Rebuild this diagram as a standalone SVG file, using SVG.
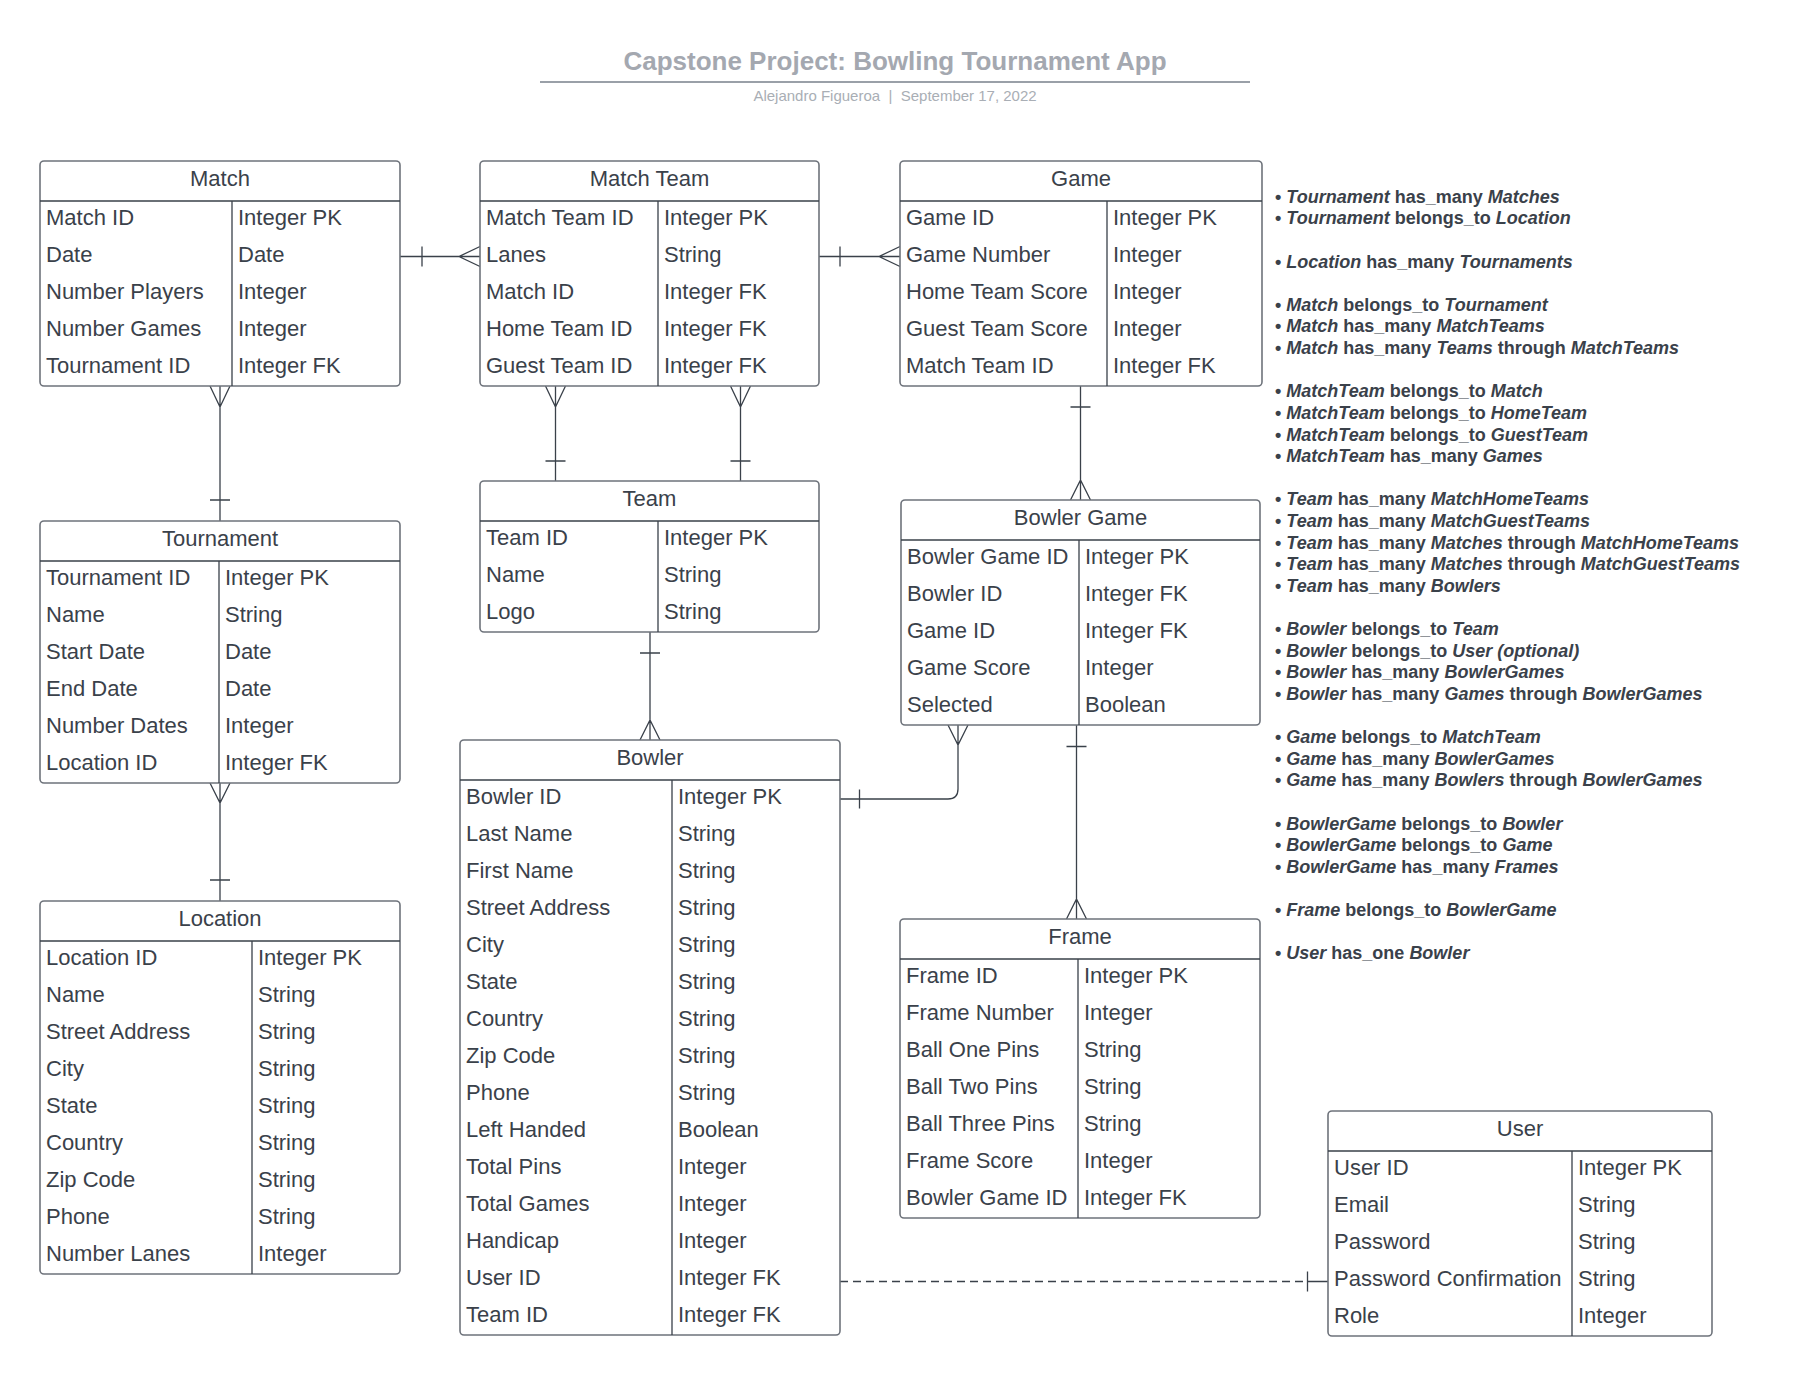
<svg xmlns="http://www.w3.org/2000/svg" width="1800" height="1384" viewBox="0 0 1800 1384">
<style>
.bg{fill:#ffffff}
.box{fill:#ffffff;stroke:#6e737b;stroke-width:1.6}
.ln{stroke:#3a414a;stroke-width:1.3;fill:none}
.t{font-family:"Liberation Sans",Arial,sans-serif;font-size:22px;fill:#3a414a}
.h{font-family:"Liberation Sans",Arial,sans-serif;font-size:22px;fill:#3a414a;text-anchor:middle}
.cn{stroke:#3a414a;stroke-width:1.3;fill:none}
.dash{stroke:#3a414a;stroke-width:1.3;fill:none;stroke-dasharray:8 5}
.title{font-family:"Liberation Sans",Arial,sans-serif;font-size:26px;font-weight:bold;fill:#a4a8b0;text-anchor:middle}
.sub{font-family:"Liberation Sans",Arial,sans-serif;font-size:15px;fill:#a9aeb5;text-anchor:middle;white-space:pre}
.n{font-family:"Liberation Sans",Arial,sans-serif;font-size:18px;font-weight:bold;fill:#3a414a}
.i{font-style:italic}
</style>
<rect class="bg" x="0" y="0" width="1800" height="1384"/>

<g id="header">
<text class="title" x="895" y="70">Capstone Project: Bowling Tournament App</text>
<line x1="540" y1="82" x2="1250" y2="82" stroke="#9aa0a8" stroke-width="2"/>
<text class="sub" x="895" y="101" xml:space="preserve">Alejandro Figueroa  |  September 17, 2022</text>
</g>

<g id="connectors">
<!-- Match - Match Team -->
<path class="cn" d="M400 256.5 H480 M422 246.5 V266.5 M480 246.5 L459 256.5 L480 266.5"/>
<!-- Match Team - Game -->
<path class="cn" d="M819 256.5 H900 M840 246.5 V266.5 M900 246.5 L879 256.5 L900 266.5"/>
<!-- Match - Tournament -->
<path class="cn" d="M220 386 V521 M210 500 H230 M210 386 L220 407 L230 386"/>
<!-- Tournament - Location -->
<path class="cn" d="M220 783 V901 M210 880 H230 M210 783 L220 803 L230 783"/>
<!-- Match Team - Team (home) -->
<path class="cn" d="M555.5 386 V481 M545.5 461 H565.5 M545.5 386 L555.5 407 L565.5 386"/>
<!-- Match Team - Team (guest) -->
<path class="cn" d="M740.5 386 V481 M730.5 461 H750.5 M730.5 386 L740.5 407 L750.5 386"/>
<!-- Team - Bowler -->
<path class="cn" d="M650 632 V740 M640 653 H660 M640 740 L650 720 L660 740"/>
<!-- Game - Bowler Game -->
<path class="cn" d="M1080.5 386 V500 M1070.5 407 H1090.5 M1070.5 500 L1080.5 480 L1090.5 500"/>
<!-- Bowler Game - Bowler -->
<path class="cn" d="M958 725 V789 Q958 799 948 799 H840 M859.5 789.5 V808.5 M948 725 L958 745 L968 725"/>
<!-- Bowler Game - Frame -->
<path class="cn" d="M1076.5 725 V919 M1066.5 746.5 H1086.5 M1066.5 919 L1076.5 899 L1086.5 919"/>
<!-- Bowler - User -->
<path class="dash" d="M840 1281.5 H1307.5"/>
<path class="cn" d="M1307.5 1281.5 H1328 M1307.5 1271.5 V1291.5"/>
</g>

<g id="match">
<rect class="box" x="40" y="161" width="360" height="225" rx="4"/>
<path class="ln" d="M40 201 H400 M232 201 V386"/>
<text class="h" x="220" y="185.5">Match</text>
<g transform="translate(0,1.5)">
<text class="t" x="46" y="223">Match ID</text><text class="t" x="238" y="223">Integer PK</text>
<text class="t" x="46" y="260">Date</text><text class="t" x="238" y="260">Date</text>
<text class="t" x="46" y="297">Number Players</text><text class="t" x="238" y="297">Integer</text>
<text class="t" x="46" y="334">Number Games</text><text class="t" x="238" y="334">Integer</text>
<text class="t" x="46" y="371">Tournament ID</text><text class="t" x="238" y="371">Integer FK</text>
</g>
</g>

<g id="match-team">
<rect class="box" x="480" y="161" width="339" height="225" rx="4"/>
<path class="ln" d="M480 201 H819 M658 201 V386"/>
<text class="h" x="649.5" y="185.5">Match Team</text>
<g transform="translate(0,1.5)">
<text class="t" x="486" y="223">Match Team ID</text><text class="t" x="664" y="223">Integer PK</text>
<text class="t" x="486" y="260">Lanes</text><text class="t" x="664" y="260">String</text>
<text class="t" x="486" y="297">Match ID</text><text class="t" x="664" y="297">Integer FK</text>
<text class="t" x="486" y="334">Home Team ID</text><text class="t" x="664" y="334">Integer FK</text>
<text class="t" x="486" y="371">Guest Team ID</text><text class="t" x="664" y="371">Integer FK</text>
</g>
</g>

<g id="game">
<rect class="box" x="900" y="161" width="362" height="225" rx="4"/>
<path class="ln" d="M900 201 H1262 M1107 201 V386"/>
<text class="h" x="1081" y="185.5">Game</text>
<g transform="translate(0,1.5)">
<text class="t" x="906" y="223">Game ID</text><text class="t" x="1113" y="223">Integer PK</text>
<text class="t" x="906" y="260">Game Number</text><text class="t" x="1113" y="260">Integer</text>
<text class="t" x="906" y="297">Home Team Score</text><text class="t" x="1113" y="297">Integer</text>
<text class="t" x="906" y="334">Guest Team Score</text><text class="t" x="1113" y="334">Integer</text>
<text class="t" x="906" y="371">Match Team ID</text><text class="t" x="1113" y="371">Integer FK</text>
</g>
</g>

<g id="team">
<rect class="box" x="480" y="481" width="339" height="151" rx="4"/>
<path class="ln" d="M480 521 H819 M658 521 V632"/>
<text class="h" x="649.5" y="505.5">Team</text>
<g transform="translate(0,1.5)">
<text class="t" x="486" y="543">Team ID</text><text class="t" x="664" y="543">Integer PK</text>
<text class="t" x="486" y="580">Name</text><text class="t" x="664" y="580">String</text>
<text class="t" x="486" y="617">Logo</text><text class="t" x="664" y="617">String</text>
</g>
</g>

<g id="tournament">
<rect class="box" x="40" y="521" width="360" height="262" rx="4"/>
<path class="ln" d="M40 561 H400 M219 561 V783"/>
<text class="h" x="220" y="545.5">Tournament</text>
<g transform="translate(0,1.5)">
<text class="t" x="46" y="583">Tournament ID</text><text class="t" x="225" y="583">Integer PK</text>
<text class="t" x="46" y="620">Name</text><text class="t" x="225" y="620">String</text>
<text class="t" x="46" y="657">Start Date</text><text class="t" x="225" y="657">Date</text>
<text class="t" x="46" y="694">End Date</text><text class="t" x="225" y="694">Date</text>
<text class="t" x="46" y="731">Number Dates</text><text class="t" x="225" y="731">Integer</text>
<text class="t" x="46" y="768">Location ID</text><text class="t" x="225" y="768">Integer FK</text>
</g>
</g>

<g id="location">
<rect class="box" x="40" y="901" width="360" height="373" rx="4"/>
<path class="ln" d="M40 941 H400 M252 941 V1274"/>
<text class="h" x="220" y="925.5">Location</text>
<g transform="translate(0,1.5)">
<text class="t" x="46" y="963">Location ID</text><text class="t" x="258" y="963">Integer PK</text>
<text class="t" x="46" y="1000">Name</text><text class="t" x="258" y="1000">String</text>
<text class="t" x="46" y="1037">Street Address</text><text class="t" x="258" y="1037">String</text>
<text class="t" x="46" y="1074">City</text><text class="t" x="258" y="1074">String</text>
<text class="t" x="46" y="1111">State</text><text class="t" x="258" y="1111">String</text>
<text class="t" x="46" y="1148">Country</text><text class="t" x="258" y="1148">String</text>
<text class="t" x="46" y="1185">Zip Code</text><text class="t" x="258" y="1185">String</text>
<text class="t" x="46" y="1222">Phone</text><text class="t" x="258" y="1222">String</text>
<text class="t" x="46" y="1259">Number Lanes</text><text class="t" x="258" y="1259">Integer</text>
</g>
</g>

<g id="bowler">
<rect class="box" x="460" y="740" width="380" height="595" rx="4"/>
<path class="ln" d="M460 780 H840 M672 780 V1335"/>
<text class="h" x="650" y="764.5">Bowler</text>
<g transform="translate(0,1.5)">
<text class="t" x="466" y="802">Bowler ID</text><text class="t" x="678" y="802">Integer PK</text>
<text class="t" x="466" y="839">Last Name</text><text class="t" x="678" y="839">String</text>
<text class="t" x="466" y="876">First Name</text><text class="t" x="678" y="876">String</text>
<text class="t" x="466" y="913">Street Address</text><text class="t" x="678" y="913">String</text>
<text class="t" x="466" y="950">City</text><text class="t" x="678" y="950">String</text>
<text class="t" x="466" y="987">State</text><text class="t" x="678" y="987">String</text>
<text class="t" x="466" y="1024">Country</text><text class="t" x="678" y="1024">String</text>
<text class="t" x="466" y="1061">Zip Code</text><text class="t" x="678" y="1061">String</text>
<text class="t" x="466" y="1098">Phone</text><text class="t" x="678" y="1098">String</text>
<text class="t" x="466" y="1135">Left Handed</text><text class="t" x="678" y="1135">Boolean</text>
<text class="t" x="466" y="1172">Total Pins</text><text class="t" x="678" y="1172">Integer</text>
<text class="t" x="466" y="1209">Total Games</text><text class="t" x="678" y="1209">Integer</text>
<text class="t" x="466" y="1246">Handicap</text><text class="t" x="678" y="1246">Integer</text>
<text class="t" x="466" y="1283">User ID</text><text class="t" x="678" y="1283">Integer FK</text>
<text class="t" x="466" y="1320">Team ID</text><text class="t" x="678" y="1320">Integer FK</text>
</g>
</g>

<g id="bowler-game">
<rect class="box" x="901" y="500" width="359" height="225" rx="4"/>
<path class="ln" d="M901 540 H1260 M1079 540 V725"/>
<text class="h" x="1080.5" y="524.5">Bowler Game</text>
<g transform="translate(0,1.5)">
<text class="t" x="907" y="562">Bowler Game ID</text><text class="t" x="1085" y="562">Integer PK</text>
<text class="t" x="907" y="599">Bowler ID</text><text class="t" x="1085" y="599">Integer FK</text>
<text class="t" x="907" y="636">Game ID</text><text class="t" x="1085" y="636">Integer FK</text>
<text class="t" x="907" y="673">Game Score</text><text class="t" x="1085" y="673">Integer</text>
<text class="t" x="907" y="710">Selected</text><text class="t" x="1085" y="710">Boolean</text>
</g>
</g>

<g id="frame">
<rect class="box" x="900" y="919" width="360" height="299" rx="4"/>
<path class="ln" d="M900 959 H1260 M1078 959 V1218"/>
<text class="h" x="1080" y="943.5">Frame</text>
<g transform="translate(0,1.5)">
<text class="t" x="906" y="981">Frame ID</text><text class="t" x="1084" y="981">Integer PK</text>
<text class="t" x="906" y="1018">Frame Number</text><text class="t" x="1084" y="1018">Integer</text>
<text class="t" x="906" y="1055">Ball One Pins</text><text class="t" x="1084" y="1055">String</text>
<text class="t" x="906" y="1092">Ball Two Pins</text><text class="t" x="1084" y="1092">String</text>
<text class="t" x="906" y="1129">Ball Three Pins</text><text class="t" x="1084" y="1129">String</text>
<text class="t" x="906" y="1166">Frame Score</text><text class="t" x="1084" y="1166">Integer</text>
<text class="t" x="906" y="1203">Bowler Game ID</text><text class="t" x="1084" y="1203">Integer FK</text>
</g>
</g>

<g id="user">
<rect class="box" x="1328" y="1111" width="384" height="225" rx="4"/>
<path class="ln" d="M1328 1151 H1712 M1572 1151 V1336"/>
<text class="h" x="1520" y="1135.5">User</text>
<g transform="translate(0,1.5)">
<text class="t" x="1334" y="1173">User ID</text><text class="t" x="1578" y="1173">Integer PK</text>
<text class="t" x="1334" y="1210">Email</text><text class="t" x="1578" y="1210">String</text>
<text class="t" x="1334" y="1247">Password</text><text class="t" x="1578" y="1247">String</text>
<text class="t" x="1334" y="1284">Password Confirmation</text><text class="t" x="1578" y="1284">String</text>
<text class="t" x="1334" y="1321">Role</text><text class="t" x="1578" y="1321">Integer</text>
</g>
</g>

<g id="notes">
<text class="n" x="1275" y="202.7">• <tspan class="i">Tournament</tspan> has_many <tspan class="i">Matches</tspan></text>
<text class="n" x="1275" y="224.3">• <tspan class="i">Tournament</tspan> belongs_to <tspan class="i">Location</tspan></text>
<text class="n" x="1275" y="267.6">• <tspan class="i">Location</tspan> has_many <tspan class="i">Tournaments</tspan></text>
<text class="n" x="1275" y="310.8">• <tspan class="i">Match</tspan> belongs_to <tspan class="i">Tournament</tspan></text>
<text class="n" x="1275" y="332.4">• <tspan class="i">Match</tspan> has_many <tspan class="i">MatchTeams</tspan></text>
<text class="n" x="1275" y="354.0">• <tspan class="i">Match</tspan> has_many <tspan class="i">Teams</tspan> through <tspan class="i">MatchTeams</tspan></text>
<text class="n" x="1275" y="397.3">• <tspan class="i">MatchTeam</tspan> belongs_to <tspan class="i">Match</tspan></text>
<text class="n" x="1275" y="418.9">• <tspan class="i">MatchTeam</tspan> belongs_to <tspan class="i">HomeTeam</tspan></text>
<text class="n" x="1275" y="440.5">• <tspan class="i">MatchTeam</tspan> belongs_to <tspan class="i">GuestTeam</tspan></text>
<text class="n" x="1275" y="462.1">• <tspan class="i">MatchTeam</tspan> has_many <tspan class="i">Games</tspan></text>
<text class="n" x="1275" y="505.4">• <tspan class="i">Team</tspan> has_many <tspan class="i">MatchHomeTeams</tspan></text>
<text class="n" x="1275" y="527.0">• <tspan class="i">Team</tspan> has_many <tspan class="i">MatchGuestTeams</tspan></text>
<text class="n" x="1275" y="548.6">• <tspan class="i">Team</tspan> has_many <tspan class="i">Matches</tspan> through <tspan class="i">MatchHomeTeams</tspan></text>
<text class="n" x="1275" y="570.2">• <tspan class="i">Team</tspan> has_many <tspan class="i">Matches</tspan> through <tspan class="i">MatchGuestTeams</tspan></text>
<text class="n" x="1275" y="591.9">• <tspan class="i">Team</tspan> has_many <tspan class="i">Bowlers</tspan></text>
<text class="n" x="1275" y="635.1">• <tspan class="i">Bowler</tspan> belongs_to <tspan class="i">Team</tspan></text>
<text class="n" x="1275" y="656.7">• <tspan class="i">Bowler</tspan> belongs_to <tspan class="i">User (optional)</tspan></text>
<text class="n" x="1275" y="678.3">• <tspan class="i">Bowler</tspan> has_many <tspan class="i">BowlerGames</tspan></text>
<text class="n" x="1275" y="700.0">• <tspan class="i">Bowler</tspan> has_many <tspan class="i">Games</tspan> through <tspan class="i">BowlerGames</tspan></text>
<text class="n" x="1275" y="743.2">• <tspan class="i">Game</tspan> belongs_to <tspan class="i">MatchTeam</tspan></text>
<text class="n" x="1275" y="764.8">• <tspan class="i">Game</tspan> has_many <tspan class="i">BowlerGames</tspan></text>
<text class="n" x="1275" y="786.4">• <tspan class="i">Game</tspan> has_many <tspan class="i">Bowlers</tspan> through <tspan class="i">BowlerGames</tspan></text>
<text class="n" x="1275" y="829.7">• <tspan class="i">BowlerGame</tspan> belongs_to <tspan class="i">Bowler</tspan></text>
<text class="n" x="1275" y="851.3">• <tspan class="i">BowlerGame</tspan> belongs_to <tspan class="i">Game</tspan></text>
<text class="n" x="1275" y="872.9">• <tspan class="i">BowlerGame</tspan> has_many <tspan class="i">Frames</tspan></text>
<text class="n" x="1275" y="916.2">• <tspan class="i">Frame</tspan> belongs_to <tspan class="i">BowlerGame</tspan></text>
<text class="n" x="1275" y="959.4">• <tspan class="i">User</tspan> has_one <tspan class="i">Bowler</tspan></text>
</g>
</svg>
